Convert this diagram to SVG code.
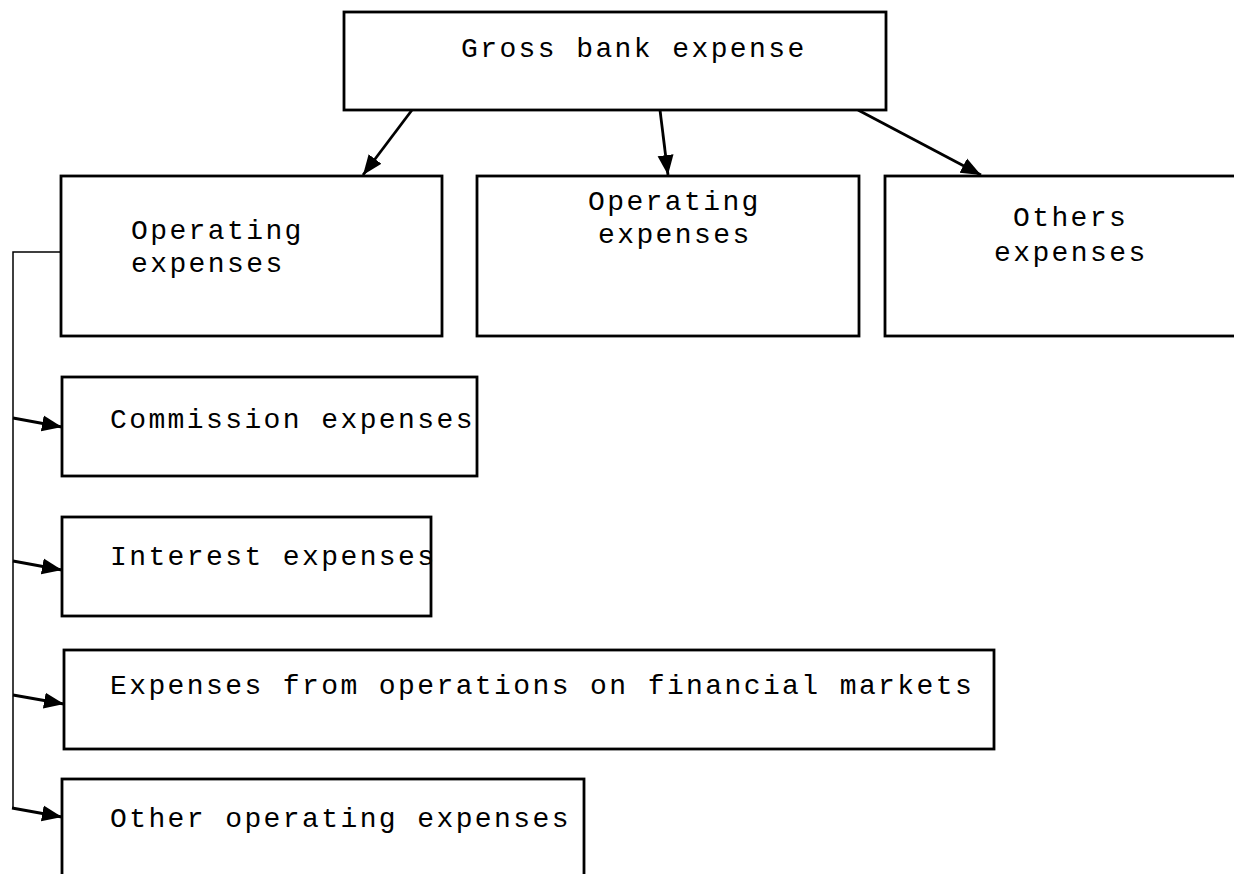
<svg xmlns="http://www.w3.org/2000/svg" width="1234" height="874" viewBox="0 0 1234 874">
<defs>
<style>
.box{fill:#fff;stroke:#000;stroke-width:2.8}
.t{font-family:"Liberation Mono","Courier New",monospace;font-size:28px;letter-spacing:2.4px;fill:#000}
.arr{stroke:#000;stroke-width:2.8;fill:none;marker-end:url(#ah)}
.thin{stroke:#000;stroke-width:1.5;fill:none}
</style>
<marker id="ah" markerUnits="userSpaceOnUse" markerWidth="22" markerHeight="18" refX="20" refY="8" orient="auto" viewBox="0 0 22 16">
<path d="M0,0 L20,8 L0,16 Z" fill="#000"/>
</marker>
</defs>
<rect width="1234" height="874" fill="#fff"/>
<g id="connectors">
<path class="thin" d="M61,252 H13 V808"/>
<line class="arr" x1="412" y1="110" x2="363" y2="175"/>
<line class="arr" x1="660" y1="110" x2="668" y2="175"/>
<line class="arr" x1="858" y1="110" x2="981" y2="175"/>
<line class="arr" x1="13" y1="418" x2="62" y2="427"/>
<line class="arr" x1="13" y1="561" x2="62" y2="570"/>
<line class="arr" x1="13" y1="695" x2="64" y2="704"/>
<line class="arr" x1="12" y1="808" x2="62" y2="817"/>
</g>
<g id="gross">
<rect class="box" x="344" y="12" width="542" height="98"/>
<text class="t" x="461" y="57">Gross bank expense</text>
</g>
<g id="operating1">
<rect class="box" x="61" y="176" width="381" height="160"/>
<text class="t" x="131" y="239">Operating</text>
<text class="t" x="131" y="272">expenses</text>
</g>
<g id="operating2">
<rect class="box" x="477" y="176" width="382" height="160"/>
<text class="t" x="588" y="210">Operating</text>
<text class="t" x="598" y="243">expenses</text>
</g>
<g id="others">
<rect class="box" x="885" y="176" width="360" height="160"/>
<text class="t" x="1013" y="226">Others</text>
<text class="t" x="994" y="261">expenses</text>
</g>
<g id="commission">
<rect class="box" x="62" y="377" width="415" height="99"/>
<text class="t" x="110" y="428">Commission expenses</text>
</g>
<g id="interest">
<rect class="box" x="62" y="517" width="369" height="99"/>
<text class="t" x="110" y="565">Interest expenses</text>
</g>
<g id="markets">
<rect class="box" x="64" y="650" width="930" height="99"/>
<text class="t" x="110" y="694">Expenses from operations on financial markets</text>
</g>
<g id="otherop">
<rect class="box" x="62" y="779" width="522" height="110"/>
<text class="t" x="110" y="827">Other operating expenses</text>
</g>
</svg>
